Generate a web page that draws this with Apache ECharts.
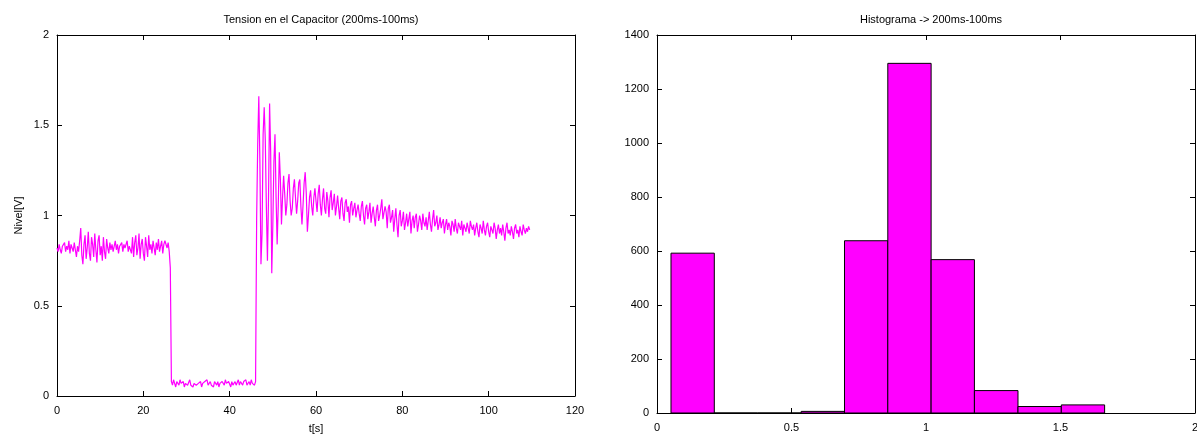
<!DOCTYPE html>
<html>
<head>
<meta charset="utf-8">
<script src="https://cdn.jsdelivr.net/npm/echarts@6/dist/echarts.min.js"></script>
<style>
html,body{margin:0;padding:0;background:#fff;}
#chart{width:1197px;height:437px;}
</style>
</head>
<body>
<div id="chart"></div>
<script>
// ---- Data ----
const leftTitle = 'Tension en el Capacitor (200ms-100ms)';
const rightTitle = 'Histograma -> 200ms-100ms';
const xName = 't[s]';
const yName = 'Nivel[V]';

// sampling interval of the voltage trace (s)
const sampleStep = 0.25;

// voltage before the switch-off (t = 0 .. 26.25 s)
const voltageHigh1 = [
  0.82, 0.80, 0.84, 0.81, 0.79, 0.83, 0.82, 0.85, 0.80, 0.83, 0.81, 0.86, 0.79, 0.84, 0.82, 0.80, 0.85, 0.81, 0.77, 0.83,
  0.80, 0.86, 0.93, 0.78, 0.73, 0.84, 0.89, 0.76, 0.82, 0.91, 0.79, 0.75, 0.88, 0.84, 0.77, 0.90, 0.81, 0.74, 0.86, 0.89,
  0.78, 0.83, 0.75, 0.88, 0.80, 0.76, 0.87, 0.82, 0.79, 0.85, 0.81, 0.84, 0.80, 0.83, 0.86, 0.81, 0.84, 0.79, 0.83, 0.82,
  0.85, 0.80, 0.84, 0.82, 0.81, 0.86, 0.80, 0.83, 0.84, 0.79, 0.88, 0.77, 0.85, 0.89, 0.78, 0.82, 0.90, 0.76, 0.84, 0.87,
  0.79, 0.75, 0.88, 0.83, 0.77, 0.89, 0.81, 0.84, 0.79, 0.86, 0.82, 0.78, 0.85, 0.81, 0.87, 0.80, 0.83, 0.86, 0.79, 0.84,
  0.86, 0.87, 0.82, 0.85, 0.80, 0.71
];

// voltage while low (t = 26.5 .. 46.0 s)
const voltageLow = [
  0.08, 0.06, 0.09, 0.07, 0.05, 0.08, 0.07, 0.06, 0.09, 0.07,
  0.06, 0.08, 0.05, 0.07, 0.08, 0.06, 0.07, 0.09, 0.06, 0.07,
  0.05, 0.07, 0.08, 0.06, 0.05, 0.07, 0.06, 0.08, 0.05, 0.07,
  0.06, 0.08, 0.07, 0.09, 0.06, 0.07, 0.08, 0.06, 0.07, 0.05,
  0.08, 0.07, 0.06, 0.08, 0.05, 0.07, 0.06, 0.08, 0.07, 0.06,
  0.09, 0.07, 0.06, 0.08, 0.07, 0.05, 0.08, 0.06, 0.07, 0.08,
  0.06, 0.07, 0.09, 0.06, 0.08, 0.07, 0.06, 0.08, 0.07, 0.09,
  0.06, 0.07, 0.08, 0.06, 0.09, 0.07, 0.08, 0.06, 0.08
];

// voltage after switch-on, transient and settling (t = 46.25 .. 109.5 s)
const voltageHigh2 = [
  0.98, 1.40, 1.66, 1.30, 0.73, 0.90, 1.45, 1.60, 1.42, 1.05, 0.75, 1.10, 1.62, 1.35, 0.68, 0.95,
  1.30, 1.45, 1.10, 0.84, 1.05, 1.35, 1.20, 0.95, 1.10, 1.22, 1.12, 1.00, 1.06, 1.18, 1.23, 1.08,
  1.00, 1.04, 1.15, 1.20, 1.10, 1.01, 1.08, 1.18, 1.20, 1.05, 0.95, 1.06, 1.18, 1.24, 1.12, 0.91,
  1.00, 1.10, 1.14, 1.05, 1.00, 1.10, 1.15, 1.08,
  1.02, 1.12, 1.17, 1.06, 1.00, 1.09, 1.15, 1.04, 1.01, 1.13, 1.08, 0.99, 1.10, 1.14, 1.03, 1.07, 1.12, 1.00, 1.05, 1.11,
  1.04, 0.98, 1.08, 1.10, 1.01, 0.97, 1.07, 1.09, 1.02, 1.05, 0.96, 1.06, 1.08, 1.00, 1.04, 1.07, 0.99, 1.03, 1.06, 1.01,
  0.97, 1.05, 1.08, 1.00, 0.95, 1.04, 1.06, 0.98, 1.02, 1.07, 0.96, 1.01, 1.05, 0.99, 0.94, 1.03, 1.06, 0.97, 1.00, 1.04,
  1.09, 0.98, 0.97, 1.05, 1.02, 0.93, 1.04, 1.06, 0.96, 0.99, 1.03, 0.91, 0.98, 1.04, 0.95, 0.88, 1.00, 1.03, 0.94, 0.97,
  1.02, 0.92, 0.96, 1.01, 0.94, 0.98, 1.02, 0.90, 0.97, 1.00, 0.93, 0.99, 1.01, 0.91, 0.95, 1.00, 0.97, 0.92, 1.01, 0.96,
  0.94, 0.99, 0.92, 0.97, 1.02, 0.95, 0.91, 0.98, 1.03, 0.94, 0.96, 1.00, 0.92, 0.95, 0.99, 0.93, 0.96, 0.98, 0.90, 0.95,
  0.98, 0.92, 0.96, 0.94, 0.89, 0.97, 0.95, 0.91, 0.98, 0.93, 0.90, 0.96, 0.94, 0.92, 0.97, 0.89, 0.95, 0.93, 0.91, 0.96,
  0.93, 0.90, 0.97, 0.94, 0.92, 0.95, 0.89, 0.93, 0.96, 0.91, 0.88, 0.95, 0.93, 0.90, 0.97, 0.92, 0.89, 0.94, 0.96, 0.91,
  0.88, 0.94, 0.92, 0.90, 0.96, 0.93, 0.87, 0.92, 0.95, 0.90, 0.93, 0.89, 0.95, 0.91, 0.86, 0.93, 0.96, 0.90, 0.92, 0.89,
  0.94, 0.91, 0.87, 0.93, 0.95, 0.90, 0.92, 0.88, 0.94, 0.91, 0.89, 0.95, 0.92, 0.90, 0.93, 0.91, 0.94, 0.92
];

// histogram: bin edges (V) and counts
const binEdges = [0.052, 0.213, 0.374, 0.536, 0.697, 0.858, 1.019, 1.180, 1.342, 1.503, 1.664];
const binCounts = [592, 0, 0, 6, 638, 1295, 568, 83, 24, 30];

// ---- Build ----
const voltage = voltageHigh1.concat(voltageLow, voltageHigh2);
const lineData = voltage.map((v, i) => [i * sampleStep, v]);
const histData = binCounts.map((c, i) => [binEdges[i], binEdges[i + 1], c]);

const FONT = 'Liberation Sans, Arial, sans-serif';
const axisLabelStyle = { color: '#000', fontSize: 11, fontFamily: FONT, formatter: v => String(v) };
const tickIn = { show: true, inside: true, length: 5, lineStyle: { color: '#000', width: 1 } };
const lineBlack = { show: true, onZero: false, lineStyle: { color: '#000', width: 1 } };

function mainX(grid, min, max, interval, name) {
  return {
    type: 'value', gridIndex: grid, min, max, interval, position: 'bottom',
    name: name || '', nameLocation: 'middle', nameGap: 27,
    nameTextStyle: { color: '#000', fontSize: 11, fontFamily: FONT },
    axisLine: lineBlack, axisTick: tickIn, splitLine: { show: false },
    axisLabel: Object.assign({ margin: 9 }, axisLabelStyle)
  };
}
function mirrorX(grid, min, max, interval) {
  return {
    type: 'value', gridIndex: grid, min, max, interval, position: 'top',
    axisLine: lineBlack, axisTick: tickIn, splitLine: { show: false },
    axisLabel: { show: false }
  };
}
function mainY(grid, min, max, interval, name) {
  return {
    type: 'value', gridIndex: grid, min, max, interval, position: 'left',
    name: name || '', nameLocation: 'middle', nameGap: 33, nameRotate: 90,
    nameTextStyle: { color: '#000', fontSize: 11, fontFamily: FONT },
    axisLine: lineBlack, axisTick: tickIn, splitLine: { show: false },
    axisLabel: Object.assign({ margin: 8 }, axisLabelStyle)
  };
}
function mirrorY(grid, min, max, interval) {
  return {
    type: 'value', gridIndex: grid, min, max, interval, position: 'right',
    axisLine: lineBlack, axisTick: tickIn, splitLine: { show: false },
    axisLabel: { show: false }
  };
}

const chart = echarts.init(document.getElementById('chart'));
chart.setOption({
  animation: false,
  backgroundColor: '#fff',
  title: [
    { text: leftTitle, left: 316, top: 9, textAlign: 'center',
      textStyle: { fontSize: 11, fontWeight: 'normal', color: '#000', fontFamily: FONT } },
    { text: rightTitle, left: 926, top: 9, textAlign: 'center',
      textStyle: { fontSize: 11, fontWeight: 'normal', color: '#000', fontFamily: FONT } }
  ],
  grid: [
    { left: 57, top: 35, width: 518, height: 361, show: false, containLabel: false, outerBoundsMode: 'none' },
    { left: 657, top: 35, width: 538, height: 378, show: false, containLabel: false, outerBoundsMode: 'none' }
  ],
  xAxis: [
    mainX(0, 0, 120, 20, xName),
    mirrorX(0, 0, 120, 20),
    mainX(1, 0, 2, 0.5),
    mirrorX(1, 0, 2, 0.5)
  ],
  yAxis: [
    mainY(0, 0, 2, 0.5, yName),
    mirrorY(0, 0, 2, 0.5),
    mainY(1, 0, 1400, 200),
    mirrorY(1, 0, 1400, 200)
  ],
  series: [
    {
      type: 'line', xAxisIndex: 0, yAxisIndex: 0, data: lineData,
      showSymbol: false, symbol: 'none',
      lineStyle: { color: '#ff00ff', width: 1.2 }, z: 3
    },
    {
      type: 'custom', xAxisIndex: 2, yAxisIndex: 2, data: histData,
      encode: { x: [0, 1], y: 2 },
      renderItem: function (params, api) {
        const p0 = api.coord([api.value(0), api.value(2)]);
        const p1 = api.coord([api.value(1), 0]);
        return {
          type: 'rect',
          shape: { x: p0[0], y: p0[1], width: p1[0] - p0[0], height: p1[1] - p0[1] },
          style: { fill: '#ff00ff', stroke: '#000', lineWidth: 1 }
        };
      }
    }
  ]
});
</script>
</body>
</html>
